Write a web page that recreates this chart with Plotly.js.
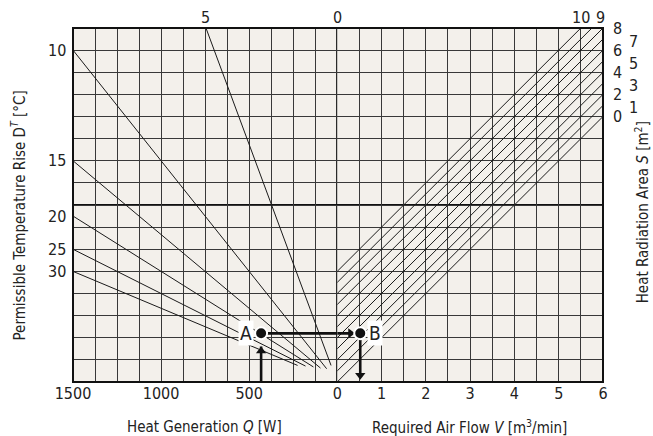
<!DOCTYPE html>
<html>
<head>
<meta charset="utf-8">
<script src="https://cdn.plot.ly/plotly-3.0.1.min.js"></script>
<style>html,body{margin:0;padding:0;background:#fff;}#chart{width:653px;height:436px;}</style>
</head>
<body>
<div id="chart"></div>
<script>
// Left quadrant: permissible temperature rise lines (Q [W] vs Q/ΔT [W/K])
const dtLabels = [5, 10, 15, 20, 25, 30];
const dtStartQ = [745, 1500, 1500, 1500, 1500, 1500];
const dtStartY = [160, 150, 100, 75, 60, 50];
const dtEndQ   = [35, 60, 95, 135, 180, 225];
const dtEndY   = [7.5, 6, 6.3, 6.8, 7.2, 7.5];

// Right quadrant: heat radiation area lines (V [m3/min] vs Q/ΔT [W/K])
const sLabels = [0, 1, 2, 3, 4, 5, 6, 7, 8, 9, 10];
const sStartV = [0, 0, 0, 0, 0, 0, 0, 0, 0, 0, 0];
const sStartY = [0, 5, 10, 15, 20, 25, 30, 35, 40, 45, 50];
const sEndV   = [6, 6, 6, 6, 6, 6, 6, 6, 6, 5.75, 5.5];
const sEndY   = [120, 125, 130, 135, 140, 145, 150, 155, 160, 160, 160];

// Example: point A (Q, Q/ΔT) and point B (V, Q/ΔT)
const aQ = 432, aY = 22;
const bV = 0.52, bY = 22;

// Axis ticks
const qTicks = [0, 500, 1000, 1500];
const vTicks = [1, 2, 3, 4, 5, 6];

// ---- Drawing ----
const FONT = 'Liberation Sans Narrow, DejaVu Sans Condensed, Arial Narrow, sans-serif';
const INK = '#1a1a1a';
const ARROW = '#111';
const traces = [];

dtLabels.forEach((d, i) => {
  traces.push({
    type: 'scatter', mode: 'lines', xaxis: 'x', yaxis: 'y',
    x: [dtStartQ[i], dtEndQ[i]], y: [dtStartY[i], dtEndY[i]],
    line: {color: INK, width: 1}, hoverinfo: 'skip', showlegend: false,
    name: 'ΔT=' + d
  });
});
sLabels.forEach((s, i) => {
  traces.push({
    type: 'scatter', mode: 'lines', xaxis: 'x2', yaxis: 'y',
    x: [sStartV[i], sEndV[i]], y: [sStartY[i], sEndY[i]],
    line: {color: INK, width: 1}, hoverinfo: 'skip', showlegend: false,
    name: 'S=' + s
  });
});
// arrow shafts
traces.push({type: 'scatter', mode: 'lines', xaxis: 'x', yaxis: 'y',
  x: [aQ, aQ], y: [0, aY - 6], line: {color: ARROW, width: 2.6}, hoverinfo: 'skip', showlegend: false});
traces.push({type: 'scatter', mode: 'lines', xaxis: 'x', yaxis: 'y',
  x: [aQ, 0], y: [aY, aY], line: {color: ARROW, width: 2.6}, hoverinfo: 'skip', showlegend: false});
traces.push({type: 'scatter', mode: 'lines', xaxis: 'x2', yaxis: 'y',
  x: [0, bV - 0.2], y: [bY, bY], line: {color: ARROW, width: 2.6}, hoverinfo: 'skip', showlegend: false});
traces.push({type: 'scatter', mode: 'lines', xaxis: 'x2', yaxis: 'y',
  x: [bV, bV], y: [bY, 4], line: {color: ARROW, width: 2.6}, hoverinfo: 'skip', showlegend: false});
// arrow heads
traces.push({type: 'scatter', mode: 'markers', xaxis: 'x', yaxis: 'y', x: [aQ], y: [aY - 8],
  marker: {symbol: 'triangle-up', size: 9, color: ARROW}, hoverinfo: 'skip', showlegend: false});
traces.push({type: 'scatter', mode: 'markers', xaxis: 'x2', yaxis: 'y', x: [bV - 0.22], y: [bY],
  marker: {symbol: 'triangle-right', size: 9, color: ARROW}, hoverinfo: 'skip', showlegend: false});
traces.push({type: 'scatter', mode: 'markers', xaxis: 'x2', yaxis: 'y', x: [bV], y: [3],
  marker: {symbol: 'triangle-down', size: 9, color: ARROW}, hoverinfo: 'skip', showlegend: false});
// points
traces.push({type: 'scatter', mode: 'markers', xaxis: 'x', yaxis: 'y', x: [aQ], y: [aY],
  marker: {size: 12, color: '#111', line: {color: '#fff', width: 2}}, hoverinfo: 'skip', showlegend: false});
traces.push({type: 'scatter', mode: 'markers', xaxis: 'x2', yaxis: 'y', x: [bV], y: [bY],
  marker: {size: 12, color: '#111', line: {color: '#fff', width: 2}}, hoverinfo: 'skip', showlegend: false});

const ann = [];
// ΔT labels
dtLabels.forEach((d, i) => {
  if (dtStartQ[i] >= 1500) {
    ann.push({xref: 'x', yref: 'y', x: dtStartQ[i], y: dtStartY[i], text: String(d),
      showarrow: false, xanchor: 'right', yanchor: 'middle', xshift: -5, font: {size: 16, color: '#222'}});
  } else {
    ann.push({xref: 'x', yref: 'paper', x: dtStartQ[i], y: 1, text: String(d),
      showarrow: false, xanchor: 'center', yanchor: 'bottom', yshift: -1, font: {size: 16, color: '#222'}});
  }
});
ann.push({xref: 'x', yref: 'paper', x: 0, y: 1, text: '0', showarrow: false,
  xanchor: 'center', yanchor: 'bottom', yshift: -1, font: {size: 16, color: '#222'}});
// S labels
sLabels.forEach((s, i) => {
  if (sEndV[i] >= 6 && sEndY[i] < 160 || s === 8) {
    ann.push({xref: 'x2', yref: 'y', x: sEndV[i], y: sEndY[i], text: String(s), showarrow: false,
      xanchor: 'center', yanchor: 'middle', xshift: (s % 2 === 0) ? 14 : 30, yshift: (s % 2 === 0) ? 0 : -2,
      font: {size: 16, color: '#222'}});
  } else {
    ann.push({xref: 'x2', yref: 'paper', x: sEndV[i], y: 1, text: String(s), showarrow: false,
      xanchor: 'center', yanchor: 'bottom', yshift: -1, xshift: s === 9 ? 9 : 0, font: {size: 16, color: '#222'}});
  }
});
// A / B labels
ann.push({xref: 'x', yref: 'y', x: aQ, y: aY, text: 'A', showarrow: false, xanchor: 'right', xshift: -7,
  bgcolor: '#fff', font: {size: 19, color: '#222'}, borderpad: 1});
ann.push({xref: 'x2', yref: 'y', x: bV, y: bY, text: 'B', showarrow: false, xanchor: 'left', xshift: 7,
  bgcolor: '#fff', font: {size: 19, color: '#222'}, borderpad: 1});
// axis titles
ann.push({xref: 'paper', yref: 'paper', x: 0.249, y: -0.128, text: 'Heat Generation <i>Q</i> [W]',
  showarrow: false, xanchor: 'center', yanchor: 'middle', font: {size: 15, color: '#222'}});
ann.push({xref: 'paper', yref: 'paper', x: 0.749, y: -0.128, text: 'Required Air Flow <i>V</i> [m<sup>3</sup>/min]',
  showarrow: false, xanchor: 'center', yanchor: 'middle', font: {size: 15, color: '#222'}});
ann.push({xref: 'paper', yref: 'paper', x: -0.104, y: 0.47, text: 'Permissible Temperature Rise D<sup><i>T</i></sup> [°C]',
  showarrow: false, xanchor: 'center', yanchor: 'middle', textangle: -90, font: {size: 15, color: '#222'}});
ann.push({xref: 'paper', yref: 'paper', x: 1.074, y: 0.48, text: 'Heat Radiation Area <i>S</i> [m<sup>2</sup>]',
  showarrow: false, xanchor: 'center', yanchor: 'middle', textangle: -90, font: {size: 15, color: '#222'}});

const GRID = '#383838';
const layout = {
  width: 653, height: 436,
  margin: {l: 73, r: 50, t: 28, b: 54},
  paper_bgcolor: '#ffffff', plot_bgcolor: '#f3f0eb',
  font: {family: FONT, size: 16, color: '#222'},
  showlegend: false,
  xaxis: {domain: [0, 0.4985], range: [1500, 0], tickmode: 'array', tickvals: qTicks,
    ticktext: qTicks.map(String), showgrid: true, gridcolor: GRID, gridwidth: 1,
    minor: {tickmode: 'linear', tick0: 0, dtick: 125, showgrid: true, gridcolor: GRID, gridwidth: 1},
    zeroline: false, showline: false, ticks: '', anchor: 'y', fixedrange: true,
    tickfont: {size: 16}},
  xaxis2: {domain: [0.4985, 1], range: [0, 6], tickmode: 'array', tickvals: vTicks,
    ticktext: vTicks.map(String), showgrid: true, gridcolor: GRID, gridwidth: 1,
    minor: {tickmode: 'linear', tick0: 0, dtick: 0.5, showgrid: true, gridcolor: GRID, gridwidth: 1},
    zeroline: false, showline: false, ticks: '', anchor: 'y', fixedrange: true,
    tickfont: {size: 16}},
  yaxis: {range: [0, 160], tickmode: 'linear', tick0: 0, dtick: 10, showgrid: true, gridcolor: GRID,
    gridwidth: 1, showticklabels: false, zeroline: false, showline: false, ticks: '', anchor: 'x', fixedrange: true},
  shapes: [
    {type: 'line', xref: 'paper', yref: 'y', x0: 0, x1: 1, y0: 80, y1: 80, line: {color: '#111', width: 2.2}, layer: 'below'},
    {type: 'line', xref: 'x', yref: 'paper', x0: 0, x1: 0, y0: 0, y1: 1, line: {color: '#111', width: 2.2}, layer: 'below'},
    {type: 'rect', xref: 'paper', yref: 'paper', x0: 0, x1: 1, y0: 0, y1: 1, line: {color: '#111', width: 2}, layer: 'above'}
  ],
  annotations: ann
};
Plotly.newPlot('chart', traces, layout, {staticPlot: true, displayModeBar: false});
</script>
</body>
</html>
